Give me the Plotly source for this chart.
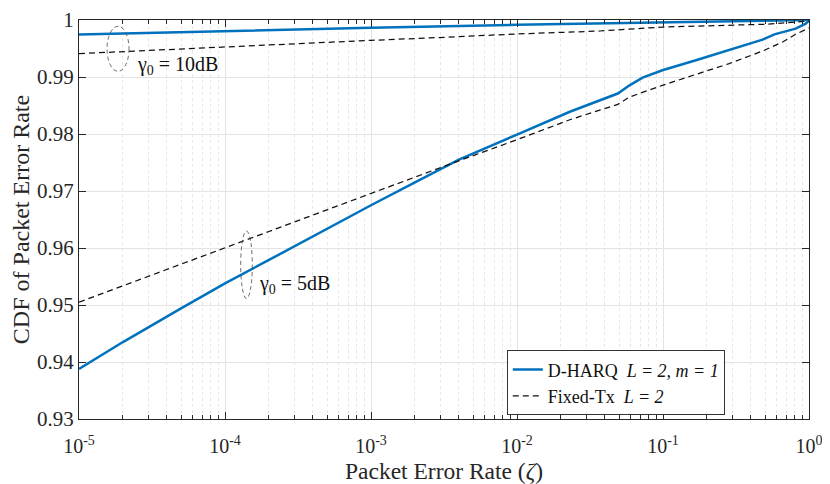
import plotly.graph_objects as go

# ---- data ----
zeta_harq_5 = [1e-5, 2e-5, 5e-5, 1e-4, 2e-4, 5e-4, 1e-3, 2e-3, 4e-3, 1e-2, 2.3e-2,
               4.9e-2, 5.9e-2, 7.25e-2, 9.9e-2, 1.68e-1, 2.84e-1, 4.81e-1, 5.8e-1,
               8.1e-1, 9.5e-1, 1.0]
cdf_harq_5 = [0.9388, 0.9435, 0.9494, 0.9538, 0.9579, 0.9634, 0.9675, 0.9715, 0.9755,
              0.9799, 0.9839, 0.9871, 0.98854, 0.98989, 0.99118, 0.99293, 0.99468,
              0.99656, 0.99749, 0.99849, 0.99937, 0.9999]

zeta_fixed_5 = [1e-5, 2e-5, 5e-5, 1e-4, 2e-4, 5e-4, 1e-3, 2e-3, 4e-3, 1e-2, 2.3e-2,
                4.9e-2, 5.9e-2, 9.9e-2, 1.68e-1, 2.84e-1, 4.81e-1, 6.6e-1, 8.1e-1, 1.0]
cdf_fixed_5 = [0.9505, 0.9534, 0.9571, 0.9600, 0.9629, 0.9667, 0.9696, 0.9724, 0.9753,
               0.9790, 0.9825, 0.9852, 0.98649, 0.98854, 0.99047, 0.99235, 0.99456,
               0.99614, 0.99749, 0.99860]

zeta_harq_10 = [1e-5, 1e-4, 1e-3, 1e-2, 1e-1, 1.0]
cdf_harq_10 = [0.99745, 0.9981, 0.99865, 0.99915, 0.99960, 1.0]

zeta_fixed_10 = [1e-5, 1e-4, 2.4e-4, 1e-3, 3.4e-3, 1e-2, 3.7e-2, 1e-1, 5e-1, 1.0]
cdf_fixed_10 = [0.9941, 0.9953, 0.99575, 0.99643, 0.9970, 0.99755, 0.99807, 0.99877,
                0.99925, 0.9998]

x_tickvals = [1e-5, 1e-4, 1e-3, 1e-2, 1e-1, 1.0]
x_ticktext = ["10<sup>-5</sup>", "10<sup>-4</sup>", "10<sup>-3</sup>",
              "10<sup>-2</sup>", "10<sup>-1</sup>", "10<sup>0</sup>"]
y_tickvals = [0.93, 0.94, 0.95, 0.96, 0.97, 0.98, 0.99, 1.0]
y_ticktext = ["0.93", "0.94", "0.95", "0.96", "0.97", "0.98", "0.99", "1"]

name_harq = "D-HARQ\u00a0\u00a0<i>L = 2, m = 1</i>"
name_fixed = "Fixed-Tx\u00a0\u00a0<i>L = 2</i>"

BLUE = "#0072BD"
FONT = "Liberation Serif, Times New Roman, serif"
AXC = "#262626"
GRID = "#e3e3e3"

minor_vals = [m * 10.0 ** e for e in range(-5, 0) for m in range(2, 10)]

fig = go.Figure()
fig.add_trace(go.Scatter(x=zeta_harq_10, y=cdf_harq_10, mode="lines", name=name_harq,
                         line=dict(color=BLUE, width=2.5)))
fig.add_trace(go.Scatter(x=zeta_harq_5, y=cdf_harq_5, mode="lines", name=name_harq,
                         showlegend=False, line=dict(color=BLUE, width=2.5)))
fig.add_trace(go.Scatter(x=zeta_fixed_10, y=cdf_fixed_10, mode="lines", name=name_fixed,
                         line=dict(color="#111111", width=1.25, dash="6px,4px")))
fig.add_trace(go.Scatter(x=zeta_fixed_5, y=cdf_fixed_5, mode="lines", name=name_fixed,
                         showlegend=False,
                         line=dict(color="#111111", width=1.25, dash="6px,4px")))

# ellipses marking the curve groups
for x0, x1, y0, y1 in [(0.0384, 0.0685, 0.8714, 0.9842), (0.2215, 0.2374, 0.3018, 0.4712)]:
    fig.add_shape(type="circle", xref="paper", yref="paper", x0=x0, x1=x1, y0=y0, y1=y1,
                  line=dict(color="#444444", width=0.8, dash="4px,3px"))

fig.add_annotation(xref="paper", yref="paper", x=0.0767, y=0.886, xanchor="left",
                   yanchor="middle", showarrow=False, text="γ<sub>0</sub> = 10dB",
                   font=dict(family=FONT, size=20, color="#111111"))
fig.add_annotation(xref="paper", yref="paper", x=0.2434, y=0.337, xanchor="left",
                   yanchor="middle", showarrow=False, text="γ<sub>0</sub> = 5dB",
                   font=dict(family=FONT, size=20, color="#111111"))

# page body adds an 8px margin, so the figure is sized/offset to compensate
fig.update_layout(
    width=822, height=476,
    margin=dict(l=71, r=21, t=12, b=65, autoexpand=False),
    paper_bgcolor="white", plot_bgcolor="white",
    font=dict(family=FONT, size=19, color=AXC),
    showlegend=True,
    legend=dict(x=0.586, y=0.172, xanchor="left", yanchor="top",
                bgcolor="white", bordercolor="#333333", borderwidth=1,
                font=dict(family=FONT, size=18, color="#111111"),
                tracegroupgap=0),
    xaxis=dict(type="log", range=[-5, 0], tickmode="array", tickvals=x_tickvals,
               ticktext=x_ticktext, ticks="inside", ticklen=7, tickcolor=AXC,
               showline=True, linecolor=AXC, linewidth=1, mirror="ticks",
               showgrid=True, gridcolor=GRID, gridwidth=1, zeroline=False,
               automargin=False, ticklabelstandoff=9,
               tickfont=dict(family=FONT, size=20, color=AXC),
               title=dict(text="Packet Error Rate (<i>ζ</i>)", standoff=6,
                          font=dict(family=FONT, size=23.5, color=AXC)),
               minor=dict(tickmode="array", tickvals=minor_vals, ticks="inside",
                          ticklen=4, tickcolor=AXC, showgrid=True, gridcolor="#e6e6e6",
                          griddash="dot", gridwidth=1)),
    yaxis=dict(range=[0.93, 1.0], tickmode="array", tickvals=y_tickvals,
               ticktext=y_ticktext, ticks="inside", ticklen=7, tickcolor=AXC,
               showline=True, linecolor=AXC, linewidth=1, mirror="ticks",
               showgrid=True, gridcolor=GRID, gridwidth=1, zeroline=False,
               automargin=False,
               tickfont=dict(family=FONT, size=21, color=AXC),
               title=dict(text="CDF of Packet Error Rate", standoff=8,
                          font=dict(family=FONT, size=24, color=AXC))),
)

fig.write_html("out.html")
